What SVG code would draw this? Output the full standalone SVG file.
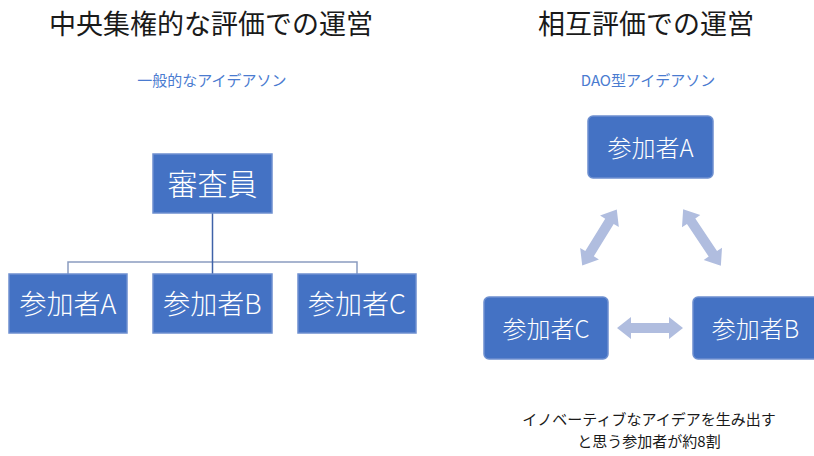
<svg xmlns="http://www.w3.org/2000/svg" xmlns:xlink="http://www.w3.org/1999/xlink" width="814" height="456" viewBox="0 0 814 456">
<style>
text{font-family:"Noto Sans CJK JP","Liberation Sans",sans-serif;}
.title{font-size:27px;fill:#1a1a1a;text-anchor:middle;}
.sub{font-size:15px;fill:#4a7bd0;text-anchor:middle;}
.box{fill:#4472c4;stroke:#6d8fcf;stroke-width:1.5;}
.lbl{fill:#ffffff;text-anchor:middle;dominant-baseline:central;font-weight:300;}
.line{fill:none;stroke-width:1.5;}
.arr{fill:#b0bddf;}
.note{font-size:15px;fill:#1a1a1a;text-anchor:middle;}
</style>
<defs>
<path id="dbl" d="M-33,0 L-19,-11 L-19,-5 L19,-5 L19,-11 L33,0 L19,11 L19,5 L-19,5 L-19,11 Z"/>
</defs>
<rect width="814" height="456" fill="#ffffff"/>
<text class="title" x="211" y="34">中央集権的な評価での運営</text>
<text class="title" x="646" y="34">相互評価での運営</text>
<text class="sub" x="212" y="86">一般的なアイデアソン</text>
<text class="sub" x="648" y="86">DAO型アイデアソン</text>
<g id="connectors">
<path class="line" stroke="#8a9cc0" d="M68,274 V262 H357 V274"/>
<path class="line" stroke="#3f62a8" d="M212.5,213 V274"/>
<use class="arr" xlink:href="#dbl" transform="translate(599.5,237.5) rotate(-58.4)"/>
<use class="arr" xlink:href="#dbl" transform="translate(702,237.5) rotate(56.3) scale(1.03,1)"/>
<use class="arr" xlink:href="#dbl" transform="translate(650,328)"/>
</g>
<g id="reviewer">
<rect class="box" x="153" y="154" width="119" height="59"/>
<text class="lbl" x="212.5" y="182" font-size="30">審査員</text>
</g>
<g id="left-A">
<rect class="box" x="9" y="274" width="118" height="59"/>
<text class="lbl" x="68" y="302.5" font-size="27">参加者A</text>
</g>
<g id="left-B">
<rect class="box" x="153" y="274" width="119" height="59"/>
<text class="lbl" x="212.5" y="302.5" font-size="27">参加者B</text>
</g>
<g id="left-C">
<rect class="box" x="298" y="274" width="118" height="59"/>
<text class="lbl" x="357" y="302.5" font-size="27">参加者C</text>
</g>
<g id="right-A">
<rect class="box" x="588" y="116" width="125" height="62" rx="5"/>
<text class="lbl" x="650.5" y="146" font-size="24">参加者A</text>
</g>
<g id="right-C">
<rect class="box" x="484" y="297" width="124" height="62" rx="5"/>
<text class="lbl" x="546" y="327" font-size="24">参加者C</text>
</g>
<g id="right-B">
<rect class="box" x="693" y="297" width="125" height="62" rx="5"/>
<text class="lbl" x="755.5" y="327" font-size="24">参加者B</text>
</g>
<text class="note" x="649" y="425">イノベーティブなアイデアを生み出す</text>
<text class="note" x="649" y="447">と思う参加者が約8割</text>
</svg>
